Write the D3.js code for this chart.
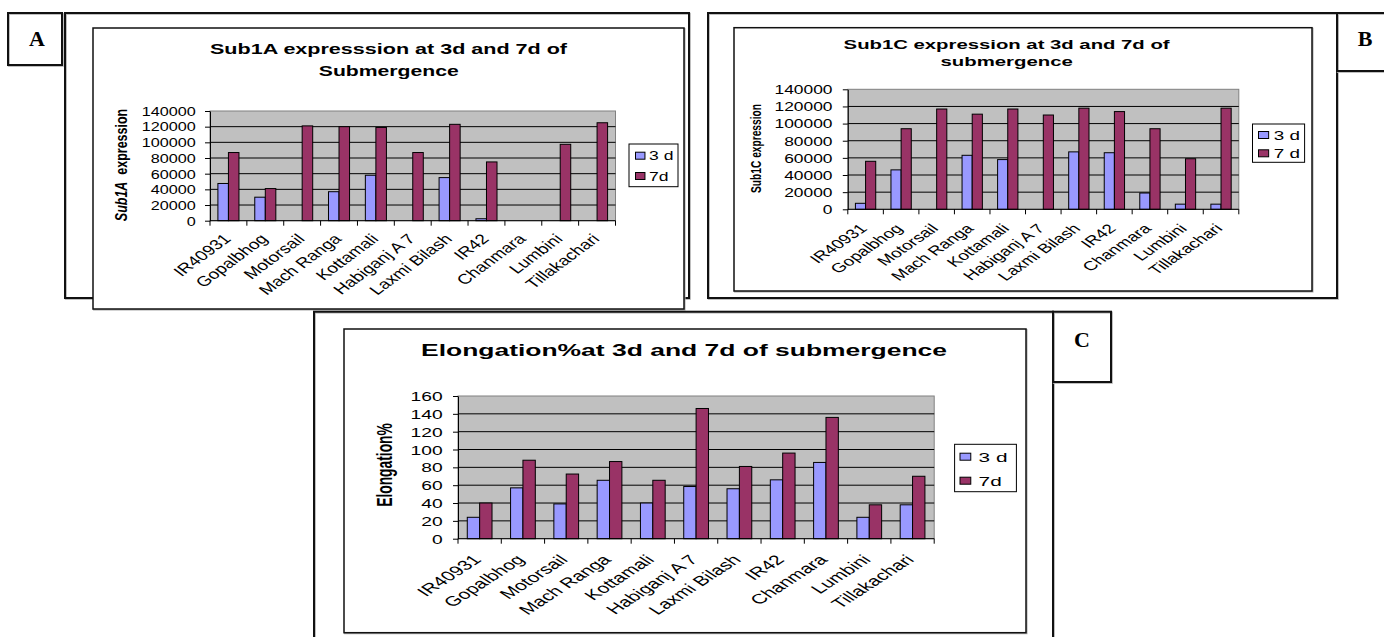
<!DOCTYPE html>
<html>
<head>
<meta charset="utf-8">
<script src="https://cdn.jsdelivr.net/npm/d3@7"></script>
<style>
  html, body { margin: 0; padding: 0; background: #ffffff; }
  svg { display: block; }
  text { font-family: "Liberation Sans", Arial, sans-serif; fill: #000; }
</style>
</head>
<body>
<svg id="fig" width="1384" height="637"></svg>
<script>
// ---- data ----
const categories = ["IR40931", "Gopalbhog", "Motorsail", "Mach Ranga", "Kottamali", "Habiganj A 7",
                    "Laxmi Bilash", "IR42", "Chanmara", "Lumbini", "Tillakachari"];
const sub1a3d = [47500, 30000, 0, 37000, 58000, 0, 55000, 2500, 0, 0, 0];
const sub1a7d = [87000, 41000, 121000, 120000, 119000, 87000, 123000, 75000, 0, 97500, 125000];
const sub1c3d = [7000, 46000, 0, 63000, 58000, 0, 67000, 66000, 19000, 6000, 6000];
const sub1c7d = [56000, 94000, 117000, 111000, 117000, 110000, 118000, 114000, 94000, 59000, 118000];
const elong3d = [24, 57, 39, 65.5, 40, 58.5, 56, 66, 85.5, 24, 38];
const elong7d = [40, 88, 72.5, 86.5, 65.5, 146, 81, 96, 136, 38, 70];
const expressionTicks = [0, 20000, 40000, 60000, 80000, 100000, 120000, 140000];
const elongationTicks = [0, 20, 40, 60, 80, 100, 120, 140, 160];
const seriesColors = ["#9999ff", "#993366"];

const svg = d3.select("#fig");

function box(x0, y0, x1, y1, w, fill) {
  // light grey edge under the black line, like a printed frame
  svg.append("rect")
    .attr("x", x0 + 0.8).attr("y", y0 + 0.8)
    .attr("width", x1 - x0).attr("height", y1 - y0)
    .attr("fill", "none").attr("stroke", "#b0b0b0").attr("stroke-width", w);
  svg.append("rect")
    .attr("x", x0).attr("y", y0)
    .attr("width", x1 - x0).attr("height", y1 - y0)
    .attr("fill", fill || "none")
    .attr("stroke", "#111").attr("stroke-width", w);
}

function panelLetter(letter, cx, baseY) {
  svg.append("text")
    .attr("x", cx).attr("y", baseY)
    .attr("text-anchor", "middle")
    .style("font-family", "'Liberation Serif', 'Times New Roman', serif")
    .style("font-weight", "bold")
    .style("font-size", "22px")
    .text(letter);
}

function barPanel(p) {
  const g = svg.append("g");
  const k = p.k;

  const x = d3.scaleBand().domain(categories).range([p.left, p.right]).padding(0);
  const y = d3.scaleLinear().domain([0, p.max]).range([p.bottom, p.top]);
  const inner = d3.scaleBand().domain([0, 1]).range([0, x.bandwidth()])
    .paddingInner(0).paddingOuter(0.75);

  // title
  p.title.forEach(t => {
    g.append("text")
      .attr("x", t.cx - t.w / 2).attr("y", t.y)
      .attr("textLength", t.w).attr("lengthAdjust", "spacingAndGlyphs")
      .style("font-weight", "bold").style("font-size", p.titleSize + "px")
      .text(t.text);
  });

  // plot area
  g.append("rect")
    .attr("x", p.left).attr("y", p.top)
    .attr("width", p.right - p.left).attr("height", p.bottom - p.top)
    .attr("fill", "#c0c0c0").attr("stroke", "#808080").attr("stroke-width", 1);

  // gridlines
  g.selectAll(null).data(p.ticks.filter(t => t > 0 && t < p.max)).join("line")
    .attr("x1", p.left).attr("x2", p.right)
    .attr("y1", d => y(d)).attr("y2", d => y(d))
    .attr("stroke", "#000").attr("stroke-width", 1);

  // bars
  [p.s3d, p.s7d].forEach((vals, si) => {
    g.selectAll(null)
      .data(categories.map((c, i) => ({ c, v: vals[i] })).filter(d => d.v > 0))
      .join("rect")
      .attr("x", d => x(d.c) + inner(si))
      .attr("y", d => y(d.v))
      .attr("width", inner.bandwidth())
      .attr("height", d => y(0) - y(d.v))
      .attr("fill", seriesColors[si])
      .attr("stroke", "#000").attr("stroke-width", 1);
  });

  // value axis
  const yAxis = g.append("g").attr("transform", `translate(${p.left},0)`)
    .call(d3.axisLeft(y).tickValues(p.ticks).tickSize(5).tickSizeOuter(0).tickFormat(d3.format("d")));
  yAxis.select(".domain").attr("stroke", "#000");
  yAxis.selectAll(".tick line").attr("stroke", "#000");
  yAxis.selectAll(".tick text")
    .attr("x", 0).attr("dy", "0.36em")
    .attr("transform", `translate(${p.labelRight - p.left},0) scale(${k},1)`)
    .style("font-size", p.tickSize + "px")
    .style("font-family", "'Liberation Sans', Arial, sans-serif")
    .attr("fill", "#000");

  // category axis with ticks on category boundaries
  g.append("line")
    .attr("x1", p.left).attr("x2", p.right)
    .attr("y1", p.bottom).attr("y2", p.bottom)
    .attr("stroke", "#000");
  g.selectAll(null).data(categories.map(c => x(c)).concat([p.right])).join("line")
    .attr("x1", d => d).attr("x2", d => d)
    .attr("y1", p.bottom).attr("y2", p.bottom + 5)
    .attr("stroke", "#000");
  g.selectAll(null).data(categories).join("text")
    .attr("transform", d => `translate(${x(d) + x.bandwidth() / 2 + p.lx},${p.bottom + p.ly}) scale(${k},1) rotate(-45)`)
    .attr("text-anchor", "end").attr("dy", "0.71em")
    .style("font-size", p.catSize + "px")
    .text(d => d);

  // value axis title
  const yt = g.append("text")
    .attr("transform", `translate(${p.yTitle.x},${p.yTitle.y}) scale(${k},1) rotate(-90)`)
    .attr("text-anchor", "middle").attr("dy", "0.35em")
    .style("font-weight", "bold").style("font-size", p.yTitle.size + "px");
  p.yTitle.parts.forEach(part => {
    yt.append("tspan").style("font-style", part.italic ? "italic" : "normal")
      .attr("xml:space", "preserve").text(part.text);
  });

  // legend
  const L = p.legend;
  g.append("rect")
    .attr("x", L.x0).attr("y", L.y0)
    .attr("width", L.x1 - L.x0).attr("height", L.y1 - L.y0)
    .attr("fill", "#fff").attr("stroke", "#000").attr("stroke-width", 1);
  L.labels.forEach((lab, i) => {
    g.append("rect")
      .attr("x", L.swX).attr("y", L.rows[i] - 3.5)
      .attr("width", 7 * k).attr("height", 7)
      .attr("fill", seriesColors[i]).attr("stroke", "#000").attr("stroke-width", 1);
    g.append("text")
      .attr("transform", `translate(${L.txtX},${L.rows[i]}) scale(${k},1)`)
      .attr("dy", "0.36em")
      .style("font-size", L.size + "px")
      .text(lab);
  });
}

// ---- frames and panel letters ----
box(65, 13, 689, 298, 2);             // panel A outer frame
box(93, 28, 684, 309, 1.5, "#fff");   // panel A chart
box(708, 13, 1337, 298, 2);           // panel B outer frame
box(734, 27.7, 1312, 291, 1.5, "#fff");
box(1337, 13, 1400, 71, 2);           // B letter box
box(314, 311.7, 1053, 700, 2);        // panel C outer frame
box(344, 329, 1026, 632.7, 1.5, "#fff");
box(1053, 311.7, 1111, 382, 2);       // C letter box
box(8, 13, 62, 65, 2);                // A letter box
panelLetter("A", 37, 45.5);
panelLetter("B", 1365, 46);
panelLetter("C", 1082, 346.5);

// ---- panel A ----
barPanel({
  left: 210, right: 615.5, top: 111, bottom: 220.7, max: 140000, ticks: expressionTicks,
  s3d: sub1a3d, s7d: sub1a7d, k: 1.35, labelRight: 195.8, tickSize: 12, catSize: 14,
  lx: -6, ly: 12,
  titleSize: 15.4,
  title: [
    { text: "Sub1A expresssion at 3d and  7d of", cx: 388.5, y: 54.3, w: 357 },
    { text: "Submergence", cx: 388.8, y: 75.7, w: 140 }
  ],
  yTitle: { x: 120.8, y: 165, size: 12.5, parts: [{ text: "Sub1A", italic: true }, { text: "  expression" }] },
  legend: { x0: 629, x1: 678, y0: 144, y1: 186.7, rows: [155.7, 176], labels: ["3 d", "7d"], swX: 635.5, txtX: 649, size: 13 }
});

// ---- panel B ----
barPanel({
  left: 847.8, right: 1238.8, top: 89.3, bottom: 209.3, max: 140000, ticks: expressionTicks,
  s3d: sub1c3d, s7d: sub1c7d, k: 1.45, labelRight: 832.5, tickSize: 12, catSize: 13,
  lx: -7, ly: 13.5,
  titleSize: 13.5,
  title: [
    { text: "Sub1C expression at 3d and 7d of", cx: 1006.6, y: 49, w: 326 },
    { text: "submergence", cx: 1006.7, y: 66, w: 132.5 }
  ],
  yTitle: { x: 756, y: 148.5, size: 10.2, parts: [{ text: "Sub1C expression" }] },
  legend: { x0: 1252.5, x1: 1304.6, y0: 124, y1: 162.3, rows: [135, 153.3], labels: ["3 d", "7 d"], swX: 1258.5, txtX: 1273.7, size: 13 }
});

// ---- panel C ----
barPanel({
  left: 458, right: 934.2, top: 396, bottom: 538.7, max: 160, ticks: elongationTicks,
  s3d: elong3d, s7d: elong7d, k: 1.54, labelRight: 442.6, tickSize: 12.5, catSize: 13.7,
  lx: -8, ly: 15,
  titleSize: 16.3,
  title: [
    { text: "Elongation%at 3d and 7d of submergence", cx: 684, y: 356, w: 526 }
  ],
  yTitle: { x: 384.4, y: 465, size: 13.8, parts: [{ text: "Elongation%" }] },
  legend: { x0: 954.6, x1: 1016.4, y0: 444.3, y1: 491.7, rows: [456.7, 480.7], labels: ["3 d", "7d"], swX: 960, txtX: 978.6, size: 13.5 }
});
</script>
</body>
</html>
